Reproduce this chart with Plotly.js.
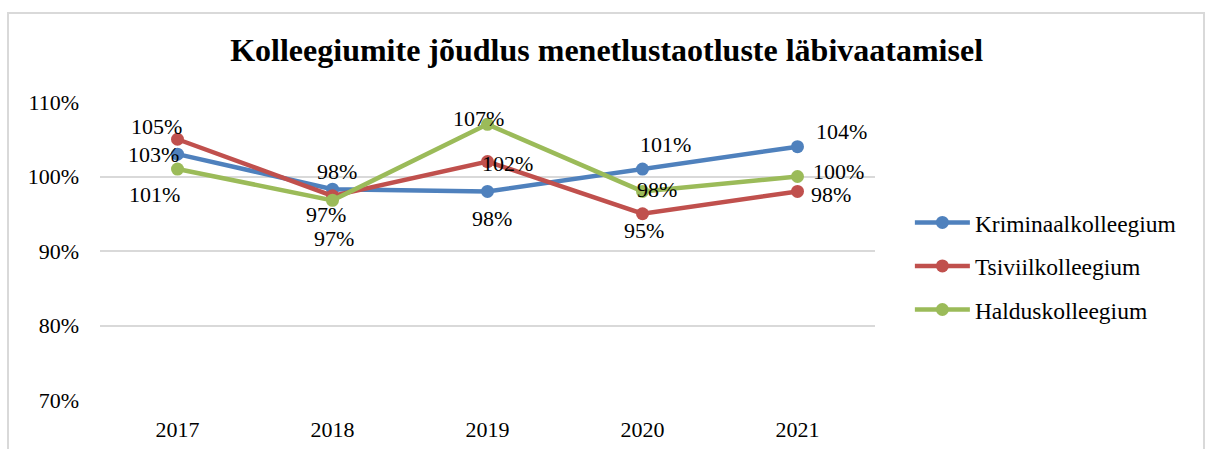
<!DOCTYPE html>
<html>
<head>
<meta charset="utf-8">
<script src="https://cdn.plot.ly/plotly-3.0.1.min.js"></script>
<style>
  html, body { margin: 0; padding: 0; background: #fff; }
  #wrap { position: relative; width: 1206px; height: 449px; overflow: hidden; }
  #chart { position: absolute; left: 0; top: 0; width: 1206px; height: 449px; }
  #frame { position: absolute; left: 7px; top: 12px; width: 1198px; height: 460px;
           border: 2px solid #D9D9D9; pointer-events: none; box-sizing: border-box; }
</style>
</head>
<body>
<div id="wrap">
  <div id="chart"></div>
  <div id="frame"></div>
</div>
<script>
// ---- data ----
const years = ['2017', '2018', '2019', '2020', '2021'];
const kriminaal = [103, 98.3, 98, 101, 104];
const tsiviil = [105, 97.4, 102, 95, 98];
const haldus = [101, 96.8, 107, 98, 100];
const seriesNames = ['Kriminaalkolleegium', 'Tsiviilkolleegium', 'Halduskolleegium'];

// ---- styles ----
const colors = ['#4F81BD', '#C0504D', '#9BBB59'];
const FONT = '"Liberation Serif", "Times New Roman", serif';
// label pixel offsets (dx right, dy down) per series per point
const labelOffsets = [
  [[-24, 0], [4, -18], [4, 27], [23, -25], [44, -15]],
  [[-21, -13], [-7, 19], [20, 2], [1, 17], [33, 3]],
  [[-23, 25], [1, 38], [-9, -6], [14, -2], [41, -5]]
];

const allSeries = [kriminaal, tsiviil, haldus];

const traces = allSeries.map((vals, i) => ({
  type: 'scatter',
  mode: 'lines+markers',
  name: seriesNames[i],
  legendgroup: 'g' + i,
  x: years,
  y: vals,
  line: { color: colors[i], width: 4.5 },
  marker: { color: colors[i], size: 13 },
  hoverinfo: 'x+y+name'
}));

const annotations = [];
allSeries.forEach((vals, i) => {
  vals.forEach((v, j) => {
    annotations.push({
      x: j, y: v, xref: 'x', yref: 'y',   // j = category index of years[j]
      text: Math.round(v) + '%',
      showarrow: false,
      xshift: labelOffsets[i][j][0],
      yshift: -labelOffsets[i][j][1],
      font: { family: FONT, size: 22, color: '#000' }
    });
  });
});

const layout = {
  width: 1206, height: 449,
  margin: { l: 100, r: 331, t: 102, b: 49, autoexpand: false },
  paper_bgcolor: '#fff', plot_bgcolor: '#fff',
  font: { family: FONT, size: 22, color: '#000' },
  title: {
    text: '<b>Kolleegiumite jõudlus menetlustaotluste läbivaatamisel</b>',
    font: { family: FONT, size: 32, color: '#000' },
    xref: 'container', x: 0.503, y: 1 - 50 / 449, yanchor: 'middle'
  },
  xaxis: {
    type: 'category', range: [-0.5, 4.5],
    showgrid: false, zeroline: false, showline: false, ticks: '',
    ticklabelstandoff: 14,
    tickfont: { family: FONT, size: 22, color: '#000' }
  },
  yaxis: {
    range: [70, 110], dtick: 10, ticksuffix: '%',
    showgrid: true, gridcolor: '#D9D9D9', gridwidth: 2,
    zeroline: false, showline: false, ticks: '',
    ticklabelstandoff: 20,
    tickfont: { family: FONT, size: 22, color: '#000' }
  },
  showlegend: true,
  legend: {
    x: 1.045, xanchor: 'left', y: 0.669, yanchor: 'top',
    traceorder: 'grouped', tracegroupgap: 10,
    itemwidth: 55,
    font: { family: FONT, size: 23.5, color: '#000' },
    bgcolor: 'rgba(0,0,0,0)'
  },
  annotations: annotations
};

Plotly.newPlot('chart', traces, layout, { displayModeBar: false, staticPlot: true });
</script>
</body>
</html>
